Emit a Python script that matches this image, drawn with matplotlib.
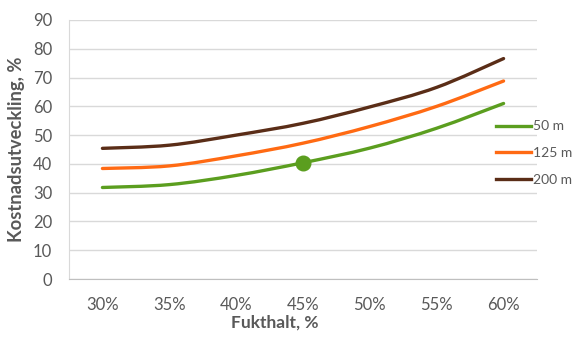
import matplotlib
matplotlib.use("Agg")
import matplotlib.pyplot as plt
from matplotlib.path import Path
from matplotlib.patches import PathPatch
from matplotlib.lines import Line2D
import numpy as np

plt.rcParams['font.family'] = ['Lato', 'DejaVu Sans']

categories = ["30%", "35%", "40%", "45%", "50%", "55%", "60%"]
series_names = ["50 m", "125 m", "200 m"]
values_50 = [31.8, 32.8, 36.0, 40.4, 45.5, 52.4, 61.0]
values_125 = [38.4, 39.3, 42.8, 47.2, 53.0, 60.0, 68.8]
values_200 = [45.4, 46.5, 50.0, 54.1, 59.8, 66.6, 76.6]
highlight_index = 3  # 45% on the 50 m curve

colors = ["#5B9E1F", "#FF6A13", "#5A2D17"]
text_gray = "#595959"

fig = plt.figure(figsize=(5.74, 3.40), dpi=100)
ax = fig.add_axes([69 / 574, 1 - 279 / 340, (537 - 69) / 574, (279 - 20) / 340])

x = np.arange(len(categories))


def smooth_path(xs, ys):
    """Cubic Bezier path through the points (Catmull-Rom style smoothing)."""
    pts = np.column_stack([xs, ys]).astype(float)
    n = len(pts)
    verts = [pts[0]]
    codes = [Path.MOVETO]
    for i in range(n - 1):
        p0 = pts[i - 1] if i > 0 else pts[i]
        p1 = pts[i]
        p2 = pts[i + 1]
        p3 = pts[i + 2] if i + 2 < n else pts[i + 1]
        c1 = p1 + (p2 - p0) / 6.0
        c2 = p2 - (p3 - p1) / 6.0
        verts += [c1, c2, p2]
        codes += [Path.CURVE4] * 3
    return Path(verts, codes)


for vals, col in zip([values_50, values_125, values_200], colors):
    patch = PathPatch(smooth_path(x, vals), facecolor="none", edgecolor=col,
                      lw=2.4, capstyle="round", zorder=3)
    ax.add_patch(patch)

ax.plot([x[highlight_index]], [values_50[highlight_index]], "o",
        color=colors[0], markersize=10.5, zorder=4)

ax.set_xlim(-0.5, len(categories) - 0.5)
ax.set_ylim(0, 90)
ax.set_yticks(np.arange(0, 91, 10))
ax.set_xticks(x)
ax.set_xticklabels(categories)

ax.grid(axis="y", color="#D9D9D9", lw=1.0)
ax.set_axisbelow(True)
for s in ["top", "right"]:
    ax.spines[s].set_visible(False)
ax.spines["left"].set_color("#D9D9D9")
ax.spines["bottom"].set_color("#BFBFBF")
ax.tick_params(axis="both", length=0, colors=text_gray, labelsize=12)
ax.tick_params(axis="x", pad=13)
ax.tick_params(axis="y", pad=12)

fig.text(275 / 574, 1 - 323 / 340, "Fukthalt, %", ha="center", va="center",
         fontsize=12.5, fontweight="bold", color=text_gray)
fig.text(17 / 574, 1 - 149 / 340, "Kostnadsutveckling, %", ha="center", va="center",
         rotation=90, fontsize=13.2, fontweight="bold", color=text_gray)

handles = [Line2D([], [], color=c, lw=2.4) for c in colors]
fig.legend(handles, series_names, loc="center left",
           bbox_to_anchor=(496 / 574, 1 - 153 / 340), frameon=False,
           fontsize=10, labelcolor=text_gray, handlelength=2.55,
           handletextpad=0.1, labelspacing=1.05, borderaxespad=0,
           borderpad=0)

fig.savefig("out.png", dpi=100)
